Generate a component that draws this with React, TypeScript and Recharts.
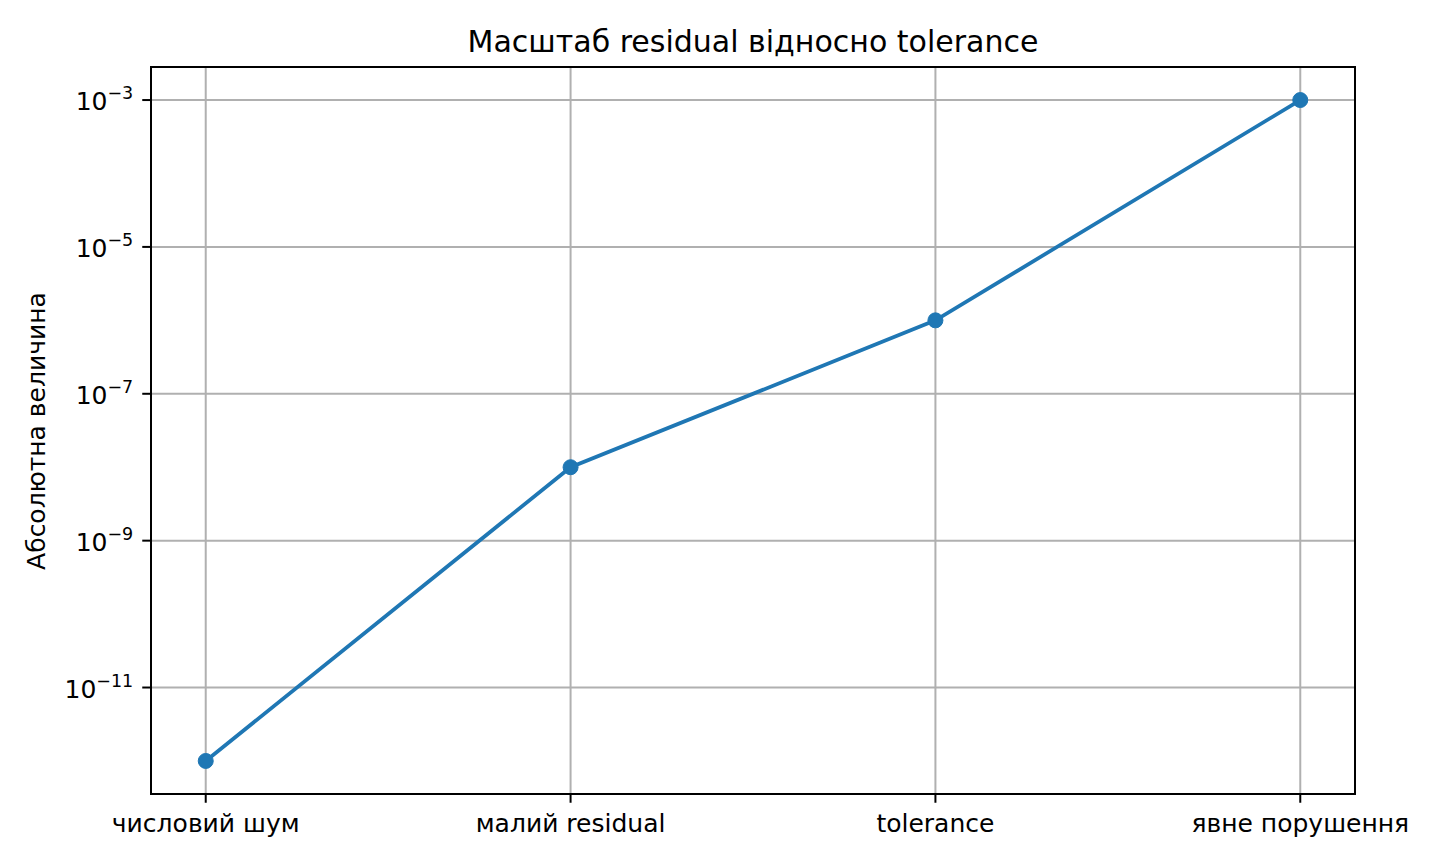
import React from "react";
import { LineChart, Line, XAxis, YAxis, CartesianGrid } from "recharts";

const categories = ["числовий шум", "малий residual", "tolerance", "явне порушення"];
const values = [1e-12, 1e-8, 1e-6, 1e-3];
const yTickValues = [1e-11, 1e-9, 1e-7, 1e-5, 1e-3];
const yTickExponents = ["−11", "−9", "−7", "−5", "−3"];

const data = categories.map((c, i) => ({ x: i, name: c, value: values[i] }));

const FONT = "'DejaVu Sans', sans-serif";

const XTick = (props: any) => {
  const { x, y, payload } = props;
  return (
    <text x={x} y={y + 29} textAnchor="middle" fontFamily={FONT} fontSize={25} fill="#000">
      {categories[payload.value]}
    </text>
  );
};

const YTick = (props: any) => {
  const { x, y, payload } = props;
  const idx = yTickValues.findIndex((v) => Math.abs(Math.log10(v) - Math.log10(payload.value)) < 1e-6);
  const exp = idx >= 0 ? yTickExponents[idx] : "";
  return (
    <text x={x - 9} y={y + 10} textAnchor="end" fontFamily={FONT} fontSize={25} fill="#000">
      <tspan>10</tspan>
      <tspan fontSize={17.5} dy={-11}>{exp}</tspan>
    </text>
  );
};

export default function App() {
  return (
    <div style={{ position: "absolute", left: 0, top: 0, width: 1440, height: 864, background: "#fff" }}>
      <div style={{ position: "absolute", left: 0, top: 0 }}>
        <LineChart
          width={1440}
          height={864}
          data={data}
          margin={{ top: 67, right: 85, bottom: 10, left: 31 }}
        >
          <CartesianGrid stroke="#b0b0b0" strokeWidth={2} />
          <XAxis
            dataKey="x"
            type="number"
            domain={[-0.15, 3.15]}
            ticks={[0, 1, 2, 3]}
            allowDataOverflow
            height={60}
            tickSize={8.75}
            tickMargin={0}
            axisLine={{ stroke: "#000", strokeWidth: 2 }}
            tickLine={{ stroke: "#000", strokeWidth: 2 }}
            tick={<XTick />}
            interval={0}
          />
          <YAxis
            type="number"
            scale="log"
            domain={[Math.pow(10, -12.45), Math.pow(10, -2.55)]}
            ticks={yTickValues}
            allowDataOverflow
            width={120}
            tickSize={8.75}
            tickMargin={0}
            axisLine={{ stroke: "#000", strokeWidth: 2 }}
            tickLine={{ stroke: "#000", strokeWidth: 2 }}
            tick={<YTick />}
            interval={0}
          />
          <Line
            dataKey="value"
            stroke="#1f77b4"
            strokeWidth={3.75}
            dot={{ r: 7.5, fill: "#1f77b4", stroke: "#1f77b4", strokeWidth: 1 }}
            activeDot={false}
            isAnimationActive={false}
          />
        </LineChart>
      </div>
      <svg
        width={1440}
        height={864}
        style={{ position: "absolute", left: 0, top: 0, pointerEvents: "none" }}
      >
        <rect x={151} y={67} width={1204} height={727} fill="none" stroke="#000" strokeWidth={2} />
        <text x={753} y={52} textAnchor="middle" fontFamily={FONT} fontSize={30} fill="#000">
          Масштаб residual відносно tolerance
        </text>
        <text
          transform="translate(45,431) rotate(-90)"
          textAnchor="middle"
          fontFamily={FONT}
          fontSize={25}
          fill="#000"
        >
          Абсолютна величина
        </text>
      </svg>
    </div>
  );
}
